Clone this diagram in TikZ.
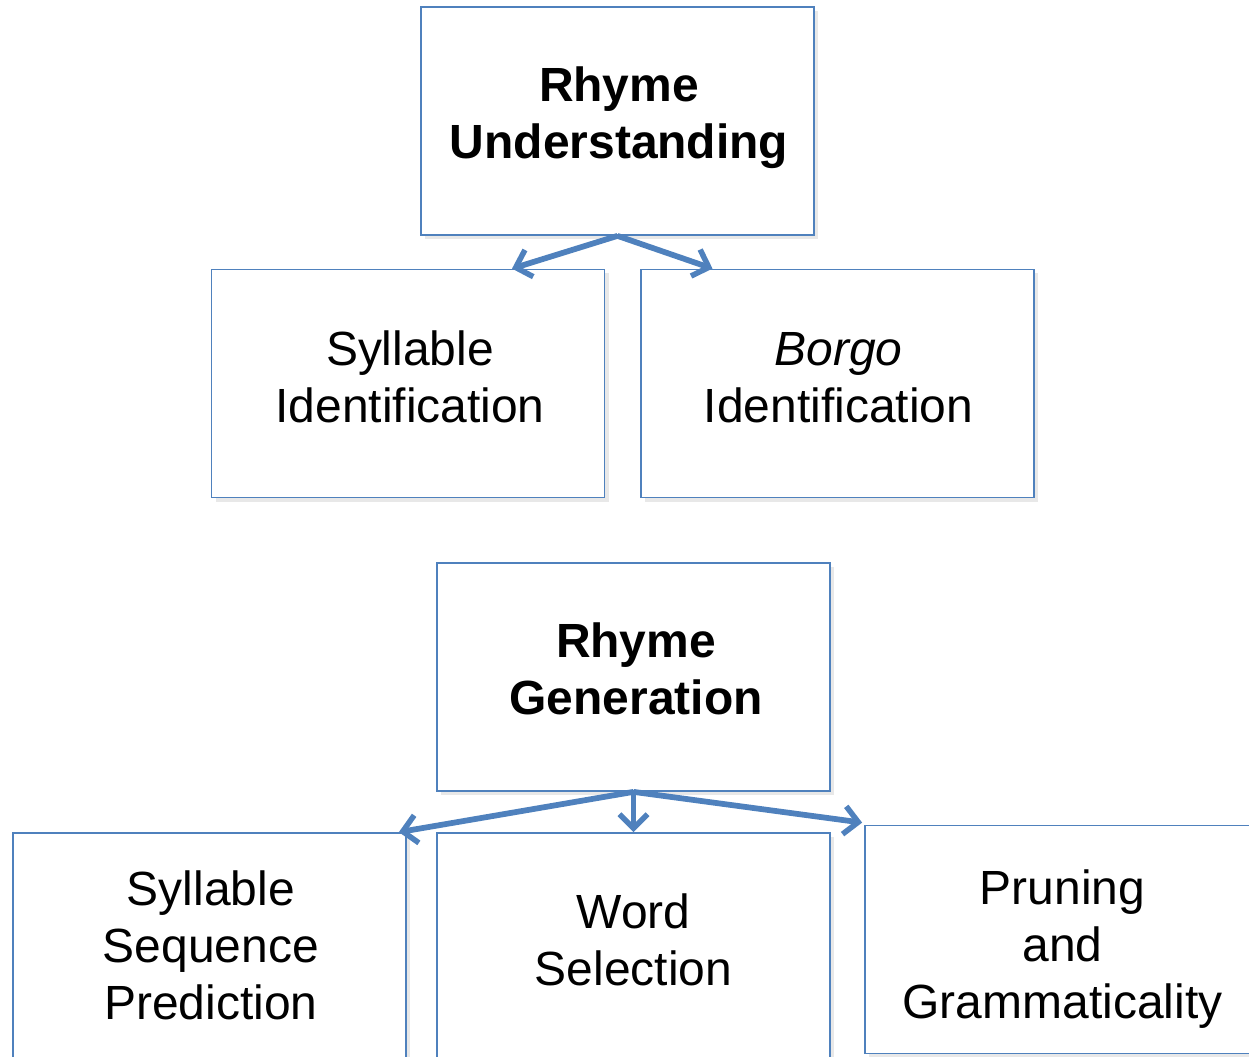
\documentclass[tikz,border=0pt]{standalone}
\usepackage{fontspec}
\setmainfont{Liberation Sans}
\usetikzlibrary{arrows.meta,calc,shadows}
\definecolor{boxblue}{HTML}{4F81BD}
\begin{document}
\begin{tikzpicture}[x=0.2mm,y=-0.2mm,
  taskbox/.style={draw=boxblue,line width=0.35mm,fill=white,
    minimum width=78.6mm,minimum height=45.6mm,inner sep=0pt,
    drop shadow={opacity=0.18,shadow xshift=0.8mm,shadow yshift=-0.8mm}},
  tasktext/.style={inner sep=0pt,align=center,
    font=\fontsize{27.3}{32.4}\selectfont},
  link/.style={draw=boxblue,line width=1.15mm,
    -{Straight Barb[length=2.8mm,width=5.6mm,line width=1.1mm]}}]
\useasboundingbox (0,0) rectangle (1249,1057);
\clip (0,0) rectangle (1249,1057);
\node[taskbox] (ru) at (617.5,121) {};
\node[taskbox] (si) at (408,383.5) {};
\node[taskbox] (bi) at (837.5,383.5) {};
\node[taskbox] (rg) at (633.5,677) {};
\node[taskbox] (ssp) at (209.5,947) {};
\node[taskbox] (ws) at (633.5,947) {};
\node[taskbox] (pg) at (1061.5,939.5) {};
\node[tasktext] (ru-t) at (619,118) {\textbf{Rhyme}\\\textbf{Understanding}};
\node[tasktext] (si-t) at (410,377) {Syllable\\Identification};
\node[tasktext] (bi-t) at (838.5,377.5) {\textit{Borgo}\\Identification};
\node[tasktext] (rg-t) at (636,669) {\textbf{Rhyme}\\\textbf{Generation}};
\node[tasktext] (ssp-t) at (211,945.5) {Syllable\\Sequence\\Prediction};
\node[tasktext] (ws-t) at (633.5,940) {Word\\Selection};
\node[tasktext] (pg-t) at (1062.5,949.5) {Pruning\\and\\Grammaticality};
\coordinate (t1) at ($(si.north)+(104,0)$);
\coordinate (t2) at ($(bi.north)+(-125,0)$);
\coordinate (t3) at ($(ssp.north east)+(-8,0)$);
\coordinate (t4) at ($(pg.north west)+(-2,-2)$);
\draw[link] (ru.south) -- (t1);
\draw[link] (ru.south) -- (t2);
\draw[link] (rg.south) -- (t3);
\draw[link] (rg.south) -- (ws.north);
\draw[link] (rg.south) -- (t4);
\end{tikzpicture}
\end{document}
